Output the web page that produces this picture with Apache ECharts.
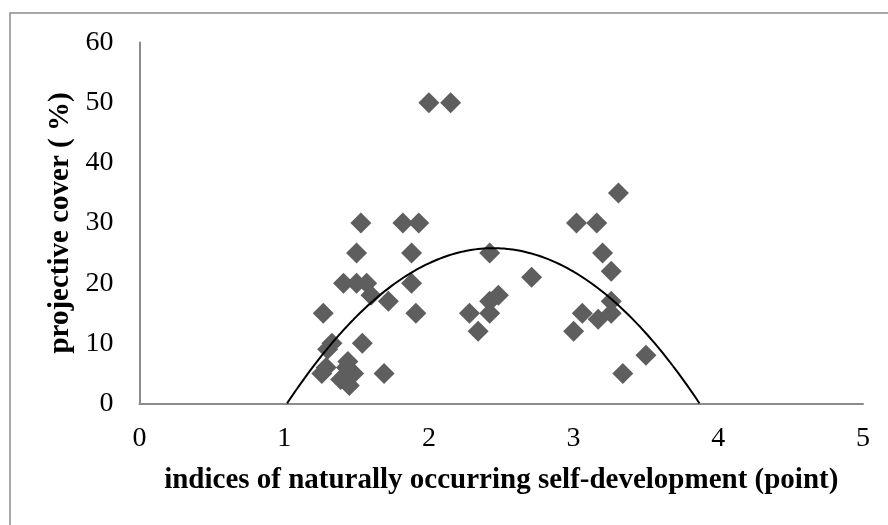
<!DOCTYPE html>
<html>
<head>
<meta charset="utf-8">
<script src="https://cdn.jsdelivr.net/npm/echarts@6/dist/echarts.min.js"></script>
<style>
html,body{margin:0;padding:0;background:#fff;}
#chart{width:888px;height:525px;}
</style>
</head>
<body>
<div id="chart"></div>
<script>
// x: indices of naturally occurring self-development, y: projective cover %
var pointsX = [1.27,1.33,1.30,1.29,1.26,1.39,1.45,1.44,1.48,1.43,1.69,1.54,
               1.41,1.50,1.57,1.60,1.72,1.50,1.53,1.82,1.93,1.88,1.88,1.91,
               2.00,2.15,2.28,2.34,2.42,2.42,2.48,2.42,2.71,
               3.00,3.02,3.06,3.16,3.17,3.20,3.26,3.26,3.26,3.31,3.34,3.50];
var pointsY = [15,10,9,6,5,4,3,7,5,6,5,10,
               20,20,20,18,17,25,30,30,30,25,20,15,
               50,50,15,12,15,17,18,25,21,
               12,30,15,30,14,25,22,17,15,35,5,8];
// polynomial trendline y = a*x^2 + b*x + c
var trendCoef = [-12.7, 62.1, -50.1];
var trendRange = [1.02, 3.87];
var xTicks = [0, 5, 1];
var yTicks = [0, 60, 10];

var chart = echarts.init(document.getElementById('chart'));

var scatterData = [];
for (var i = 0; i < pointsX.length; i++) {
    scatterData.push([pointsX[i], pointsY[i]]);
}
var trendData = [];
for (var x = trendRange[0]; x <= trendRange[1] + 1e-9; x += 0.01) {
    var y = trendCoef[0] * x * x + trendCoef[1] * x + trendCoef[2];
    trendData.push([x, Math.max(y, 0)]);
}

var axisColor = '#8c8c8c';
var fontFam = '"Liberation Serif","Times New Roman",serif';

var option = {
    backgroundColor: '#fff',
    animation: false,
    graphic: [{
        type: 'rect',
        shape: {x: 10, y: 13, width: 900, height: 530},
        style: {fill: 'none', stroke: '#8c8c8c', lineWidth: 1.5}
    }],
    grid: {left: 139.5, right: 25, top: 42.5, bottom: 121.5},
    xAxis: {
        type: 'value', min: xTicks[0], max: xTicks[1], interval: xTicks[2],
        name: 'indices of naturally occurring self-development (point)',
        nameLocation: 'middle', nameGap: 63,
        nameTextStyle: {fontFamily: fontFam, fontWeight: 'bold', fontSize: 29, color: '#000'},
        axisLine: {lineStyle: {color: axisColor, width: 2}},
        axisTick: {show: false},
        splitLine: {show: false},
        axisLabel: {fontFamily: fontFam, fontSize: 28, color: '#000', margin: 21}
    },
    yAxis: {
        type: 'value', min: yTicks[0], max: yTicks[1], interval: yTicks[2],
        name: 'projective cover ( %)',
        nameLocation: 'middle', nameGap: 61, nameRotate: 90,
        nameTextStyle: {fontFamily: fontFam, fontWeight: 'bold', fontSize: 29, color: '#000'},
        axisLine: {show: true, lineStyle: {color: axisColor, width: 2}},
        axisTick: {show: false},
        splitLine: {show: false},
        axisLabel: {fontFamily: fontFam, fontSize: 28, color: '#000', margin: 26}
    },
    series: [{
        type: 'scatter',
        symbol: 'diamond',
        symbolSize: 21,
        itemStyle: {color: '#5e5e5e', opacity: 1},
        data: scatterData,
        z: 2
    }, {
        type: 'line',
        showSymbol: false,
        lineStyle: {color: '#000', width: 2},
        data: trendData,
        z: 3
    }]
};
chart.setOption(option);
</script>
</body>
</html>
